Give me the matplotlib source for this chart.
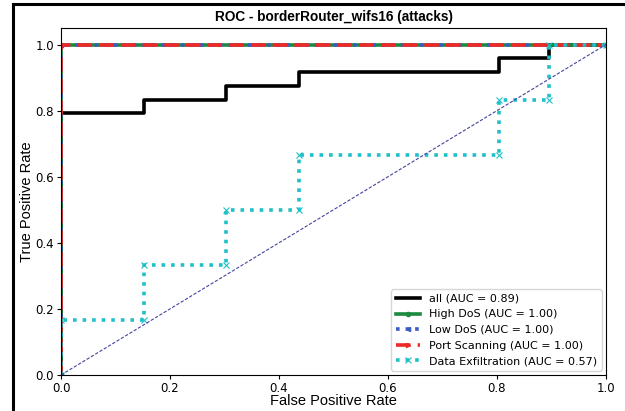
import matplotlib.pyplot as plt
from matplotlib.lines import Line2D

# ROC curves (false positive rate, true positive rate)
fpr_all = [0, 0, 0.152, 0.152, 0.303, 0.303, 0.437, 0.437, 0.804, 0.804, 0.895, 0.895, 1]
tpr_all = [0, 19/24, 19/24, 20/24, 20/24, 21/24, 21/24, 22/24, 22/24, 23/24, 23/24, 1, 1]

fpr_high = [0, 0, 1]
tpr_high = [0, 1, 1]
fpr_low = [0, 0, 1]
tpr_low = [0, 1, 1]
fpr_port = [0, 0, 1]
tpr_port = [0, 1, 1]

fpr_exf = [0, 0, 0.152, 0.152, 0.303, 0.303, 0.437, 0.437, 0.804, 0.804, 0.895, 0.895, 1]
tpr_exf = [0, 1/6, 1/6, 2/6, 2/6, 3/6, 3/6, 4/6, 4/6, 5/6, 5/6, 1, 1]

labels = ['all (AUC = 0.89)', 'High DoS (AUC = 1.00)', 'Low DoS (AUC = 1.00)',
          'Port Scanning (AUC = 1.00)', 'Data Exfiltration (AUC = 0.57)']

fig = plt.figure(figsize=(6.25, 4.11), dpi=100)
ax = fig.add_axes([0.0976, 0.0876, 0.872, 0.8443])

ax.plot(fpr_all, tpr_all, color='black', lw=2.6, label=labels[0])
ax.plot(fpr_high, tpr_high, color='#1b8a3e', lw=2.6, marker='o', ms=3, label=labels[1])
ax.plot(fpr_low, tpr_low, color='#3a5bc7', lw=2.6, ls=':', marker='<', ms=3, label=labels[2])
ax.plot(fpr_port, tpr_port, color='#f02828', lw=2.6, ls='--', dashes=(4, 2), marker='>', ms=3, label=labels[3])
ax.plot(fpr_exf, tpr_exf, color='#20c0c8', lw=2.6, ls=':', marker='x', ms=4, mew=0.8, label=labels[4])
ax.plot([0, 1], [0, 1], color='#4444a0', lw=0.8, ls='--', dashes=(3, 1.5))

ax.set_xlim(0, 1)
ax.set_ylim(0, 1.05)
ax.set_xticks([0, 0.2, 0.4, 0.6, 0.8, 1.0])
ax.set_yticks([0, 0.2, 0.4, 0.6, 0.8, 1.0])
ax.tick_params(labelsize=8.5, length=3, width=0.8, pad=2)
ax.set_xlabel('False Positive Rate', family='Liberation Sans', fontsize=10.5, labelpad=-1)
ax.set_ylabel('True Positive Rate', family='Liberation Sans', fontsize=10.5, labelpad=1)
ax.set_title('ROC - borderRouter_wifs16 (attacks)', family='Liberation Sans',
             fontsize=9.8, fontweight='bold', pad=5)
ax.legend(loc='lower right', fontsize=8, handlelength=2.2, borderaxespad=0.4)

# outer frame of the screenshot
fig.add_artist(Line2D([13/625, 13/625], [0, 1 - 4/411], color='black', lw=2.2))
fig.add_artist(Line2D([13/625, 1], [1 - 4/411, 1 - 4/411], color='black', lw=2.2))

fig.savefig('out.png', dpi=100)
